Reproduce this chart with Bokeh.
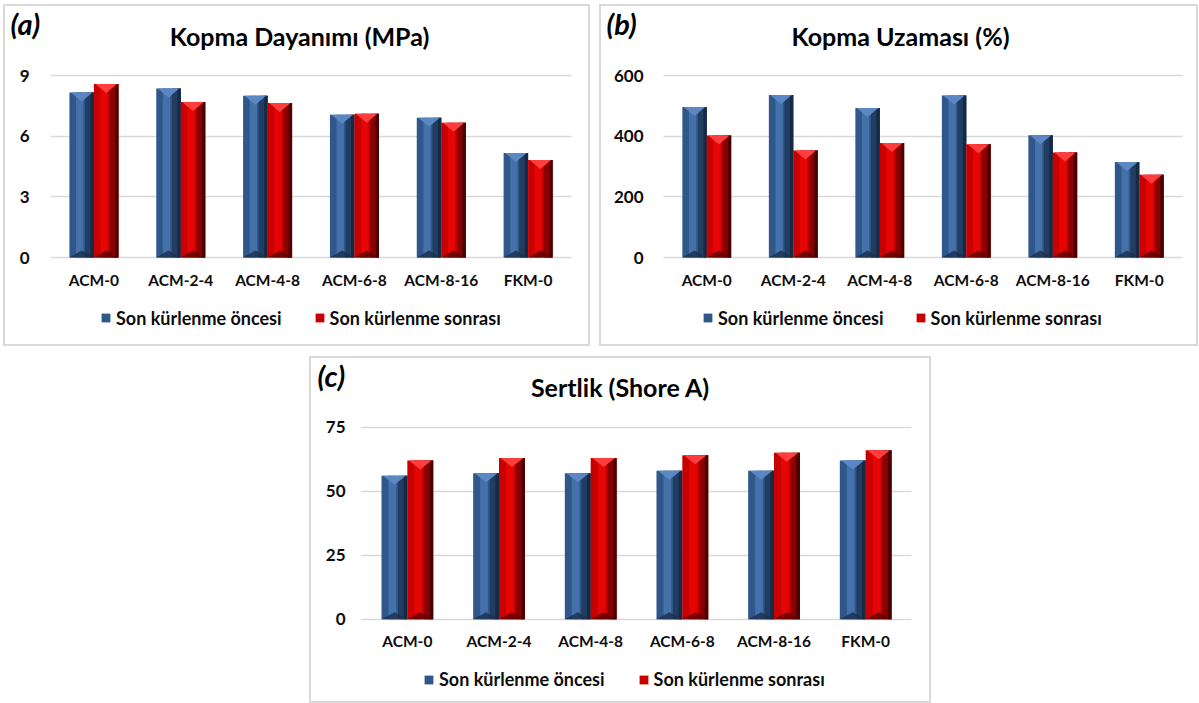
from bokeh.plotting import figure
from bokeh.models import Range1d, FixedTicker, Label, Legend, LegendItem, Spacer
from bokeh.layouts import row, column
from bokeh.embed import file_html
from bokeh.resources import INLINE

# ---------------- data ----------------
categories = ["ACM-0", "ACM-2-4", "ACM-4-8", "ACM-6-8", "ACM-8-16", "FKM-0"]
series_names = ["Son kürlenme öncesi", "Son kürlenme sonrası"]

strength_before = [8.17, 8.37, 8.01, 7.07, 6.92, 5.18]
strength_after = [8.59, 7.70, 7.65, 7.12, 6.68, 4.83]

elongation_before = [497, 537, 494, 535, 404, 315]
elongation_after = [403, 353, 378, 374, 347, 273]

hardness_before = [56, 57, 57, 58, 58, 62]
hardness_after = [62, 63, 63, 64, 65, 66]

titles = ["Kopma Dayanımı (MPa)", "Kopma Uzaması (%)", "Sertlik (Shore A)"]
tags = ["(a)", "(b)", "(c)"]
ticks_a = [0, 3, 6, 9]
ticks_b = [0, 200, 400, 600]
ticks_c = [0, 25, 50, 75]

# ---------------- styling ----------------
FONT = "Lato"
TXT = "#0d0d0d"
BLUE = dict(base="#30578a", light="#4471aa", dark="#213d62", darker="#152a45",
            cap="#5b88c4", foot="#1a2f4c")
RED = dict(base="#c80000", light="#e60505", dark="#8a0000", darker="#4a0000",
           cap="#ff3d3d", foot="#5a0000")


def draw_bars(p, xs, tops, w, pal, upp):
    half = w / 2.0
    body = p.vbar(x=xs, top=tops, bottom=0, width=w, fill_color=pal["base"],
                  line_color=None)
    p.vbar(x=[x - half + 0.42 * w for x in xs], top=tops, bottom=0,
           width=0.30 * w, fill_color=pal["light"], line_color=None)
    p.vbar(x=[x + 0.32 * w for x in xs], top=tops, bottom=0, width=0.36 * w,
           fill_color=pal["dark"], line_color=None)
    p.vbar(x=[x + 0.43 * w for x in xs], top=tops, bottom=0, width=0.14 * w,
           fill_color=pal["darker"], line_color=None)
    d = 9 * upp
    p.patches(xs=[[x - half + 0.06 * w, x + half - 0.06 * w, x] for x in xs],
              ys=[[t, t, t - d] for t in tops],
              fill_color=pal["cap"], line_color=None)
    db = 7 * upp
    p.patches(xs=[[x - half, x + half, x] for x in xs],
              ys=[[0, 0, db] for _ in tops],
              fill_color=pal["foot"], line_color=None, fill_alpha=0.8)
    return body


def make_panel(title, tag, before, after, ticks, box, frame, title_xy, tag_xy,
               legend_xy, legend_spacing, ystand):
    """box = (x0, y0, w, h) of the panel; frame = (left, right, y_top_tick, y_zero)
    in page pixels; the other positions are page pixels as well."""
    n = len(categories)
    x0, y0, W, H = box
    xl, xr, yt, yb = frame
    ymax = ticks[-1]
    ux = n / (xr - xl)
    uy = ymax / (yb - yt)
    x_range = Range1d(-(xl - x0) * ux, n + (x0 + W - xr) * ux)
    y_range = Range1d(-(y0 + H - yb) * uy, ymax + (yt - y0) * uy)

    p = figure(width=W, height=H, x_range=x_range, y_range=y_range,
               output_backend="svg", toolbar_location=None, title=None,
               min_border=0, min_border_left=0, min_border_right=0,
               min_border_top=0, min_border_bottom=0)
    p.background_fill_color = "white"
    p.border_fill_color = "white"
    p.outline_line_color = "#d9d9d9"
    p.outline_line_width = 3

    centers = [i + 0.5 for i in range(n)]
    p.xaxis.ticker = FixedTicker(ticks=centers)
    p.xaxis.major_label_overrides = {c: lab for c, lab in zip(centers, categories)}
    p.yaxis.ticker = FixedTicker(ticks=ticks)
    p.xaxis.fixed_location = 0
    p.yaxis.fixed_location = 0
    for ax in (p.xaxis[0], p.yaxis[0]):
        ax.axis_line_color = None
        ax.major_tick_line_color = None
        ax.minor_tick_line_color = None
        ax.major_tick_out = 0
        ax.major_tick_in = 0
        ax.minor_tick_out = 0
        ax.minor_tick_in = 0
        ax.major_label_text_font = FONT
        ax.major_label_text_font_style = "bold"
        ax.major_label_text_color = TXT
    p.xaxis.major_label_text_font_size = "15.5px"
    p.yaxis.major_label_text_font_size = "17px"
    p.xaxis.major_label_standoff = 13
    p.yaxis.major_label_standoff = ystand

    p.xgrid.grid_line_color = None
    p.ygrid.ticker = FixedTicker(ticks=ticks)
    p.ygrid.grid_line_color = "#d9d9d9"
    p.ygrid.grid_line_width = 1.5
    try:
        p.ygrid.cross_bounds = (0, n)
    except Exception:
        p.ygrid.grid_line_color = None
        p.segment(x0=[0] * len(ticks), x1=[n] * len(ticks), y0=ticks, y1=ticks,
                  line_color="#d9d9d9", line_width=1.5, level="underlay")

    w = 0.282
    rb = draw_bars(p, [c - w / 2 for c in centers], before, w, BLUE, uy)
    ra = draw_bars(p, [c + w / 2 for c in centers], after, w, RED, uy)

    def sx(X):
        return X - x0

    def sy(Y):
        return y0 + H - Y

    p.add_layout(Label(x=sx(title_xy[0]), y=sy(title_xy[1]), x_units="screen",
                       y_units="screen", text=title, text_font=FONT,
                       text_font_style="bold", text_font_size="25px",
                       text_color="#000000", text_align="center",
                       text_baseline="middle"))
    p.add_layout(Label(x=sx(tag_xy[0]), y=sy(tag_xy[1]), x_units="screen",
                       y_units="screen", text=tag, text_font=FONT,
                       text_font_style="bold italic", text_font_size="29px",
                       text_color="#000000", text_align="left",
                       text_baseline="middle"))
    legend = Legend(items=[LegendItem(label=series_names[0], renderers=[rb]),
                           LegendItem(label=series_names[1], renderers=[ra])],
                    location=(sx(legend_xy[0]), sy(legend_xy[1]) - 10),
                    orientation="horizontal", padding=0, margin=0,
                    spacing=legend_spacing, border_line_color=None,
                    background_fill_alpha=0, label_text_font=FONT,
                    label_text_font_style="bold", label_text_font_size="18px",
                    label_text_color=TXT, glyph_width=11, glyph_height=11,
                    label_standoff=5, label_height=20)
    p.add_layout(legend)
    return p


pa = make_panel(titles[0], tags[0], strength_before, strength_after, ticks_a,
                box=(3, 4, 587, 342), frame=(50, 571, 75.3, 257),
                title_xy=(299, 35), tag_xy=(10, 23), legend_xy=(100, 318.5),
                legend_spacing=32, ystand=21)
pb = make_panel(titles[1], tags[1], elongation_before, elongation_after, ticks_b,
                box=(599, 4, 599, 342), frame=(663, 1182, 75.3, 257),
                title_xy=(900, 35), tag_xy=(606, 23), legend_xy=(702, 318.5),
                legend_spacing=31, ystand=20)
pc = make_panel(titles[2], tags[2], hardness_before, hardness_after, ticks_c,
                box=(309, 356, 622, 347), frame=(361, 911, 426.7, 618.7),
                title_xy=(620, 386), tag_xy=(317, 375), legend_xy=(423, 680),
                legend_spacing=33, ystand=16)

layout = column(Spacer(height=4),
                row(Spacer(width=3), pa, Spacer(width=9), pb),
                Spacer(height=10),
                row(Spacer(width=309), pc))

open("out.html", "w").write(file_html(layout, INLINE))
